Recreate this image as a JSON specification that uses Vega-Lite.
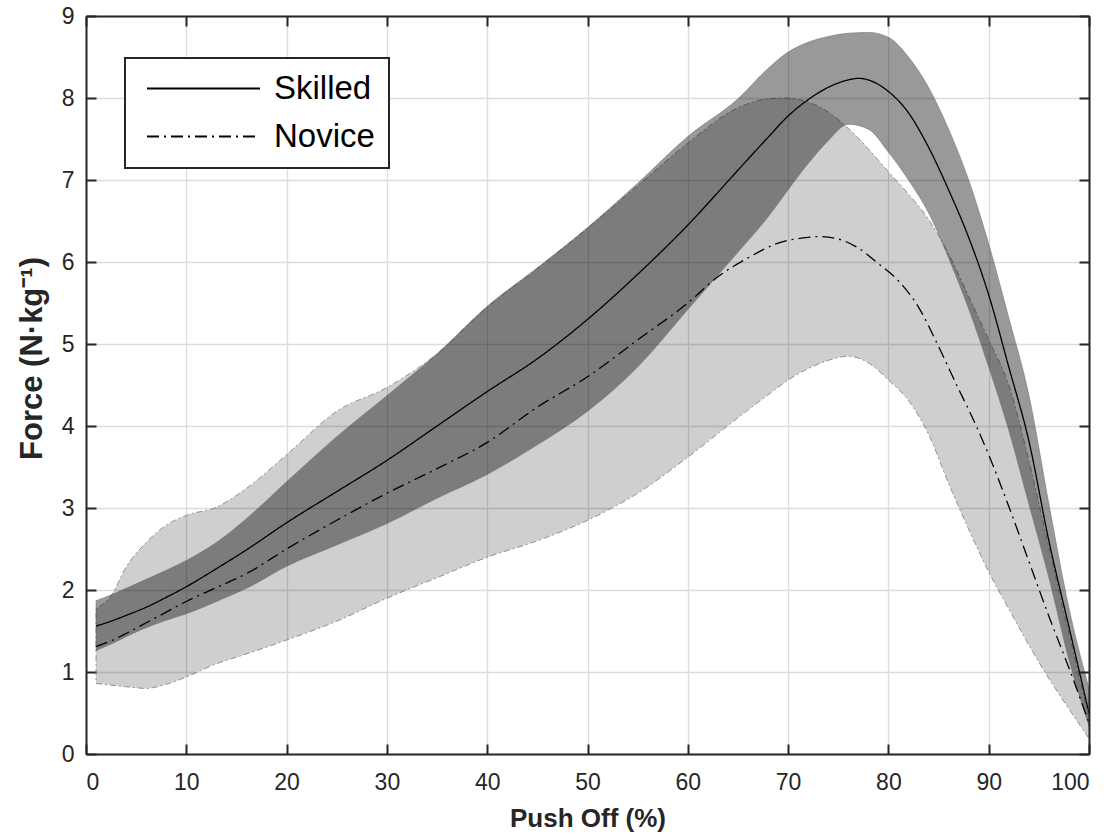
{
  "$schema": "https://vega.github.io/schema/vega-lite/v6.json",
  "width": 1003,
  "height": 738,
  "autosize": {"type": "none"},
  "padding": {"left": 86, "top": 16, "right": 31, "bottom": 82},
  "background": "white",
  "config": {
    "view": {"stroke": null},
    "font": "Liberation Sans",
    "axis": {
      "labelFont": "Liberation Sans",
      "labelFontSize": 23,
      "labelColor": "#262626",
      "domainColor": "#262626",
      "domainWidth": 2,
      "tickColor": "#262626",
      "tickWidth": 2,
      "tickSize": -10,
      "gridColor": "#dcdcdc",
      "gridWidth": 1.3,
      "titleFont": "Liberation Sans",
      "titleFontSize": 26,
      "titleFontWeight": "bold",
      "titleColor": "#262626"
    },
    "legend": {
      "labelFont": "Liberation Sans"
    }
  },
  "datasets": {
    "bands": [
      {"group": "Skilled", "x": 1, "lo": 1.26, "hi": 1.87},
      {"group": "Skilled", "x": 2.5, "lo": 1.34, "hi": 1.94},
      {"group": "Skilled", "x": 4, "lo": 1.43, "hi": 2.02},
      {"group": "Skilled", "x": 6, "lo": 1.54, "hi": 2.13},
      {"group": "Skilled", "x": 8, "lo": 1.63, "hi": 2.24},
      {"group": "Skilled", "x": 10, "lo": 1.71, "hi": 2.36},
      {"group": "Skilled", "x": 13, "lo": 1.86, "hi": 2.58},
      {"group": "Skilled", "x": 16, "lo": 2.02, "hi": 2.87},
      {"group": "Skilled", "x": 20, "lo": 2.29, "hi": 3.32},
      {"group": "Skilled", "x": 25, "lo": 2.55, "hi": 3.87},
      {"group": "Skilled", "x": 30, "lo": 2.81, "hi": 4.37},
      {"group": "Skilled", "x": 35, "lo": 3.12, "hi": 4.88},
      {"group": "Skilled", "x": 40, "lo": 3.41, "hi": 5.46},
      {"group": "Skilled", "x": 45, "lo": 3.77, "hi": 5.93},
      {"group": "Skilled", "x": 50, "lo": 4.18, "hi": 6.42},
      {"group": "Skilled", "x": 55, "lo": 4.72, "hi": 6.96},
      {"group": "Skilled", "x": 60, "lo": 5.42, "hi": 7.53},
      {"group": "Skilled", "x": 65, "lo": 6.12, "hi": 7.99},
      {"group": "Skilled", "x": 68, "lo": 6.55, "hi": 8.36},
      {"group": "Skilled", "x": 70, "lo": 6.88, "hi": 8.56},
      {"group": "Skilled", "x": 72, "lo": 7.2, "hi": 8.68},
      {"group": "Skilled", "x": 74, "lo": 7.48, "hi": 8.75},
      {"group": "Skilled", "x": 76, "lo": 7.68, "hi": 8.79},
      {"group": "Skilled", "x": 78, "lo": 7.62, "hi": 8.8},
      {"group": "Skilled", "x": 80, "lo": 7.34, "hi": 8.74},
      {"group": "Skilled", "x": 82, "lo": 7.0, "hi": 8.5},
      {"group": "Skilled", "x": 84, "lo": 6.6, "hi": 8.13},
      {"group": "Skilled", "x": 86, "lo": 6.05, "hi": 7.62},
      {"group": "Skilled", "x": 88, "lo": 5.43, "hi": 7.0},
      {"group": "Skilled", "x": 90, "lo": 4.72, "hi": 6.22},
      {"group": "Skilled", "x": 92, "lo": 3.95, "hi": 5.32},
      {"group": "Skilled", "x": 94, "lo": 3.05, "hi": 4.38},
      {"group": "Skilled", "x": 96, "lo": 2.15, "hi": 3.05},
      {"group": "Skilled", "x": 98, "lo": 1.15, "hi": 1.78},
      {"group": "Skilled", "x": 100, "lo": 0.34, "hi": 0.8},
      {"group": "Novice", "x": 1, "lo": 0.86, "hi": 1.77},
      {"group": "Novice", "x": 2.5, "lo": 0.84, "hi": 1.93},
      {"group": "Novice", "x": 4, "lo": 0.82, "hi": 2.28},
      {"group": "Novice", "x": 6, "lo": 0.8, "hi": 2.58},
      {"group": "Novice", "x": 8, "lo": 0.85, "hi": 2.79},
      {"group": "Novice", "x": 10, "lo": 0.94, "hi": 2.91},
      {"group": "Novice", "x": 13, "lo": 1.1, "hi": 3.01},
      {"group": "Novice", "x": 16, "lo": 1.22, "hi": 3.24},
      {"group": "Novice", "x": 20, "lo": 1.39, "hi": 3.65},
      {"group": "Novice", "x": 25, "lo": 1.62, "hi": 4.18},
      {"group": "Novice", "x": 30, "lo": 1.9, "hi": 4.47},
      {"group": "Novice", "x": 35, "lo": 2.15, "hi": 4.88},
      {"group": "Novice", "x": 40, "lo": 2.4, "hi": 5.45},
      {"group": "Novice", "x": 45, "lo": 2.6, "hi": 5.92},
      {"group": "Novice", "x": 50, "lo": 2.85, "hi": 6.41},
      {"group": "Novice", "x": 55, "lo": 3.18, "hi": 6.93},
      {"group": "Novice", "x": 60, "lo": 3.62, "hi": 7.45},
      {"group": "Novice", "x": 65, "lo": 4.1, "hi": 7.88},
      {"group": "Novice", "x": 68, "lo": 4.38, "hi": 7.99},
      {"group": "Novice", "x": 70, "lo": 4.56, "hi": 8.0},
      {"group": "Novice", "x": 72, "lo": 4.7, "hi": 7.95},
      {"group": "Novice", "x": 74, "lo": 4.8, "hi": 7.83},
      {"group": "Novice", "x": 76, "lo": 4.85, "hi": 7.63},
      {"group": "Novice", "x": 78, "lo": 4.77, "hi": 7.38},
      {"group": "Novice", "x": 80, "lo": 4.56, "hi": 7.1},
      {"group": "Novice", "x": 82, "lo": 4.31, "hi": 6.83},
      {"group": "Novice", "x": 84, "lo": 3.9, "hi": 6.52},
      {"group": "Novice", "x": 86, "lo": 3.3, "hi": 6.1},
      {"group": "Novice", "x": 88, "lo": 2.74, "hi": 5.58},
      {"group": "Novice", "x": 90, "lo": 2.22, "hi": 5.05},
      {"group": "Novice", "x": 92, "lo": 1.77, "hi": 4.5},
      {"group": "Novice", "x": 94, "lo": 1.33, "hi": 3.58},
      {"group": "Novice", "x": 96, "lo": 0.92, "hi": 2.52},
      {"group": "Novice", "x": 98, "lo": 0.55, "hi": 1.47},
      {"group": "Novice", "x": 100, "lo": 0.19, "hi": 0.45}
    ],
    "means": [
      {"group": "Skilled", "x": 1, "y": 1.56},
      {"group": "Skilled", "x": 2.5, "y": 1.62},
      {"group": "Skilled", "x": 4, "y": 1.69},
      {"group": "Skilled", "x": 6, "y": 1.79},
      {"group": "Skilled", "x": 8, "y": 1.91},
      {"group": "Skilled", "x": 10, "y": 2.04},
      {"group": "Skilled", "x": 13, "y": 2.26},
      {"group": "Skilled", "x": 16, "y": 2.49},
      {"group": "Skilled", "x": 20, "y": 2.82},
      {"group": "Skilled", "x": 25, "y": 3.2},
      {"group": "Skilled", "x": 30, "y": 3.58},
      {"group": "Skilled", "x": 35, "y": 4.0},
      {"group": "Skilled", "x": 40, "y": 4.42},
      {"group": "Skilled", "x": 45, "y": 4.82},
      {"group": "Skilled", "x": 50, "y": 5.3},
      {"group": "Skilled", "x": 55, "y": 5.85},
      {"group": "Skilled", "x": 60, "y": 6.45},
      {"group": "Skilled", "x": 65, "y": 7.12},
      {"group": "Skilled", "x": 68, "y": 7.52},
      {"group": "Skilled", "x": 70, "y": 7.78},
      {"group": "Skilled", "x": 72, "y": 7.98},
      {"group": "Skilled", "x": 74, "y": 8.13},
      {"group": "Skilled", "x": 76, "y": 8.22},
      {"group": "Skilled", "x": 77, "y": 8.24},
      {"group": "Skilled", "x": 78, "y": 8.22},
      {"group": "Skilled", "x": 80, "y": 8.08},
      {"group": "Skilled", "x": 82, "y": 7.82},
      {"group": "Skilled", "x": 84, "y": 7.4},
      {"group": "Skilled", "x": 86, "y": 6.88},
      {"group": "Skilled", "x": 88, "y": 6.3},
      {"group": "Skilled", "x": 90, "y": 5.6},
      {"group": "Skilled", "x": 92, "y": 4.72},
      {"group": "Skilled", "x": 94, "y": 3.82},
      {"group": "Skilled", "x": 96, "y": 2.6},
      {"group": "Skilled", "x": 98, "y": 1.55},
      {"group": "Skilled", "x": 100, "y": 0.5},
      {"group": "Novice", "x": 1, "y": 1.31},
      {"group": "Novice", "x": 2.5, "y": 1.38},
      {"group": "Novice", "x": 4, "y": 1.47},
      {"group": "Novice", "x": 6, "y": 1.6},
      {"group": "Novice", "x": 8, "y": 1.73},
      {"group": "Novice", "x": 10, "y": 1.86},
      {"group": "Novice", "x": 13, "y": 2.03},
      {"group": "Novice", "x": 16, "y": 2.2},
      {"group": "Novice", "x": 20, "y": 2.5},
      {"group": "Novice", "x": 25, "y": 2.85},
      {"group": "Novice", "x": 30, "y": 3.18},
      {"group": "Novice", "x": 35, "y": 3.48},
      {"group": "Novice", "x": 40, "y": 3.8},
      {"group": "Novice", "x": 45, "y": 4.23},
      {"group": "Novice", "x": 50, "y": 4.6},
      {"group": "Novice", "x": 55, "y": 5.05},
      {"group": "Novice", "x": 60, "y": 5.5},
      {"group": "Novice", "x": 63, "y": 5.82},
      {"group": "Novice", "x": 66, "y": 6.05},
      {"group": "Novice", "x": 69, "y": 6.23},
      {"group": "Novice", "x": 72, "y": 6.3},
      {"group": "Novice", "x": 73, "y": 6.31},
      {"group": "Novice", "x": 75, "y": 6.28},
      {"group": "Novice", "x": 77, "y": 6.17},
      {"group": "Novice", "x": 79, "y": 5.98},
      {"group": "Novice", "x": 81, "y": 5.77},
      {"group": "Novice", "x": 83, "y": 5.45},
      {"group": "Novice", "x": 85, "y": 4.97},
      {"group": "Novice", "x": 87, "y": 4.45},
      {"group": "Novice", "x": 88, "y": 4.2},
      {"group": "Novice", "x": 90, "y": 3.65},
      {"group": "Novice", "x": 92, "y": 3.02},
      {"group": "Novice", "x": 94, "y": 2.35},
      {"group": "Novice", "x": 96, "y": 1.68},
      {"group": "Novice", "x": 98, "y": 1.05},
      {"group": "Novice", "x": 100, "y": 0.38}
    ]
  },
  "layer": [
    {
      "data": {"name": "bands"},
      "transform": [{"filter": "datum.group === 'Novice'"}],
      "mark": {
        "type": "area",
        "interpolate": "monotone",
        "fill": "black",
        "fillOpacity": 0.19,
        "stroke": "#7a7a7a",
        "strokeOpacity": 0.8,
        "strokeWidth": 1,
        "strokeDash": [6, 3, 2, 3]
      },
      "encoding": {
        "x": {
          "field": "x", "type": "quantitative",
          "scale": {"domain": [0, 100], "nice": false, "zero": false},
          "axis": {
            "orient": "bottom",
            "values": [0, 10, 20, 30, 40, 50, 60, 70, 80, 90, 100],
            "title": "Push Off (%)",
            "labelPadding": 27,
            "titlePadding": 11,
            "grid": true,
            "zindex": 0
          }
        },
        "y": {
          "field": "lo", "type": "quantitative",
          "scale": {"domain": [0, 9], "nice": false, "zero": false},
          "axis": {
            "orient": "left",
            "values": [0, 1, 2, 3, 4, 5, 6, 7, 8, 9],
            "title": "Force (N·kg⁻¹)",
            "titleFontSize": 31,
            "titleY": 342,
            "labelPadding": 22,
            "titlePadding": 13,
            "grid": true,
            "zindex": 0
          }
        },
        "y2": {"field": "hi"}
      }
    },
    {
      "data": {"name": "bands"},
      "transform": [{"filter": "datum.group === 'Skilled'"}],
      "mark": {
        "type": "area",
        "interpolate": "monotone",
        "fill": "black",
        "fillOpacity": 0.4,
        "stroke": "#6e6e6e",
        "strokeOpacity": 0.7,
        "strokeWidth": 0.8
      },
      "encoding": {
        "x": {
          "field": "x", "type": "quantitative",
          "axis": {
            "orient": "top",
            "values": [0, 10, 20, 30, 40, 50, 60, 70, 80, 90, 100],
            "labels": false,
            "title": null,
            "grid": false,
            "zindex": 1
          }
        },
        "y": {
          "field": "lo", "type": "quantitative",
          "axis": {
            "orient": "right",
            "values": [0, 1, 2, 3, 4, 5, 6, 7, 8, 9],
            "labels": false,
            "title": null,
            "grid": false,
            "zindex": 1
          }
        },
        "y2": {"field": "hi"}
      }
    },
    {
      "data": {"name": "means"},
      "mark": {"type": "line", "interpolate": "monotone", "color": "black", "strokeWidth": 1.3},
      "encoding": {
        "x": {"field": "x", "type": "quantitative", "axis": null},
        "y": {"field": "y", "type": "quantitative", "axis": null},
        "detail": {"field": "group"},
        "strokeDash": {
          "field": "group", "type": "nominal",
          "scale": {"domain": ["Skilled", "Novice"], "range": [[1, 0], [12, 5, 2, 5]]},
          "legend": {
            "orient": "none",
            "legendX": 39,
            "legendY": 42,
            "title": null,
            "labelFontSize": 33,
            "labelColor": "black",
            "labelOffset": 54,
            "symbolType": "M-5,0H5",
            "symbolSize": 511,
            "symbolStrokeWidth": 2,
            "symbolStrokeColor": "black",
            "symbolOffset": 48,
            "padding": 14,
            "rowPadding": 14,
            "strokeColor": "#262626",
            "fillColor": "white",
            "encode": {"legend": {"update": {"strokeWidth": {"value": 2}}}}
          }
        }
      }
    }
  ],
  "resolve": {"axis": {"x": "independent", "y": "independent"}}
}
